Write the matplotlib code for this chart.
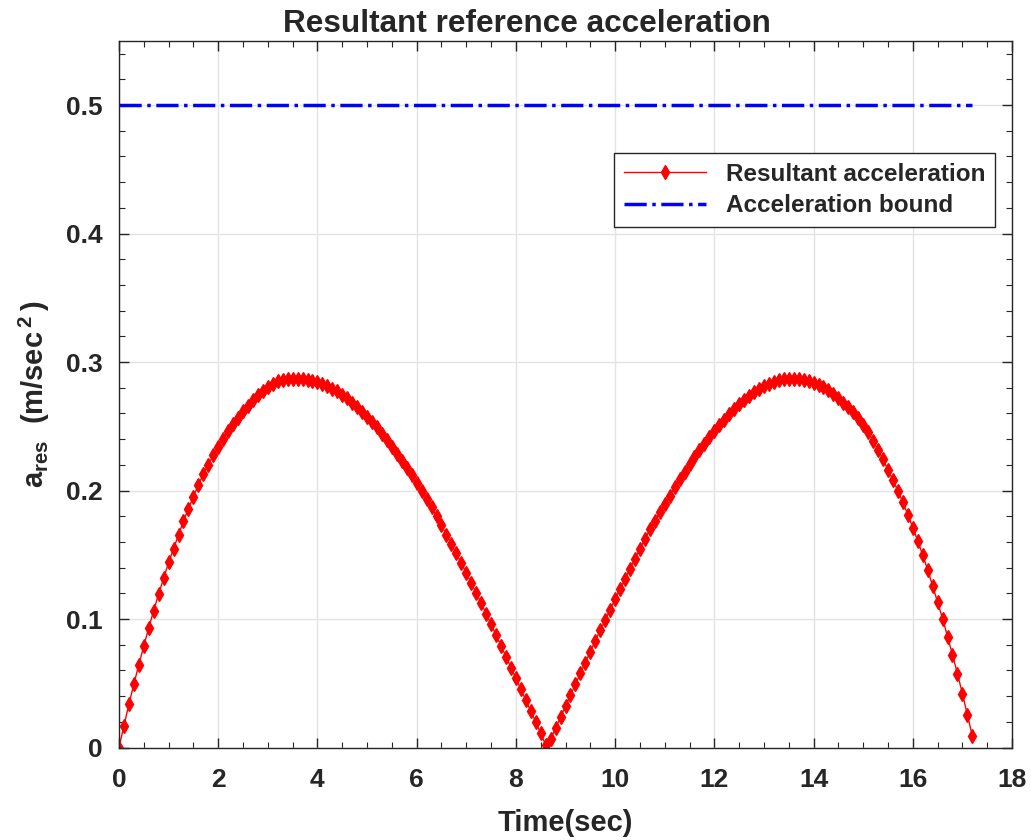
import numpy as np
import matplotlib
matplotlib.use("Agg")
import matplotlib.pyplot as plt
from matplotlib.ticker import MultipleLocator

plt.rcParams['font.family'] = ['Liberation Sans', 'DejaVu Sans']
plt.rcParams['font.weight'] = 'bold'
plt.rcParams['text.color'] = '#262626'
plt.rcParams['axes.labelcolor'] = '#262626'
plt.rcParams['xtick.color'] = '#262626'
plt.rcParams['ytick.color'] = '#262626'
plt.rcParams['mathtext.fontset'] = 'custom'
plt.rcParams['mathtext.rm'] = 'Liberation Sans:bold'
plt.rcParams['mathtext.bf'] = 'Liberation Sans:bold'
plt.rcParams['mathtext.default'] = 'bf'

# sample time step 0.1 s, 0 .. 17.2 s
dt = 0.1
a_res = [
    0.0000, 0.0170, 0.0336, 0.0494, 0.0645, 0.0790, 0.0931, 0.1066, 0.1195, 0.1318,
    0.1440, 0.1548, 0.1657, 0.1762, 0.1860, 0.1953, 0.2042, 0.2128, 0.2202, 0.2273,
    0.2338, 0.2400, 0.2463, 0.2517, 0.2566, 0.2618, 0.2660, 0.2701, 0.2740, 0.2774,
    0.2802, 0.2829, 0.2849, 0.2860, 0.2866, 0.2869, 0.2869, 0.2867, 0.2862, 0.2854,
    0.2844, 0.2831, 0.2813, 0.2792, 0.2771, 0.2745, 0.2717, 0.2685, 0.2652, 0.2615,
    0.2576, 0.2535, 0.2491, 0.2442, 0.2393, 0.2340, 0.2287, 0.2233, 0.2177, 0.2118,
    0.2058, 0.1997, 0.1934, 0.1869, 0.1800, 0.1729, 0.1657, 0.1584, 0.1510, 0.1435,
    0.1359, 0.1281, 0.1203, 0.1123, 0.1043, 0.0960, 0.0876, 0.0791, 0.0706, 0.0622,
    0.0538, 0.0455, 0.0369, 0.0284, 0.0199, 0.0112, 0.0020,
    0.0064, 0.0148, 0.0238, 0.0323, 0.0409, 0.0493, 0.0578, 0.0661, 0.0746, 0.0831,
    0.0912, 0.0994, 0.1074, 0.1154, 0.1234, 0.1313, 0.1391, 0.1469, 0.1546, 0.1622,
    0.1697, 0.1765, 0.1831, 0.1896, 0.1961, 0.2026, 0.2089, 0.2148, 0.2205, 0.2260,
    0.2317, 0.2366, 0.2416, 0.2463, 0.2509, 0.2551, 0.2595, 0.2634, 0.2670, 0.2704,
    0.2735, 0.2763, 0.2790, 0.2813, 0.2831, 0.2847, 0.2857, 0.2865, 0.2870, 0.2870,
    0.2867, 0.2862, 0.2852, 0.2839, 0.2823, 0.2802, 0.2779, 0.2753, 0.2720, 0.2685,
    0.2650, 0.2608, 0.2564, 0.2512, 0.2452, 0.2387, 0.2317, 0.2242, 0.2160, 0.2082,
    0.1998, 0.1907, 0.1813, 0.1712, 0.1608, 0.1497, 0.1382, 0.1258, 0.1131, 0.1003,
    0.0863, 0.0723, 0.0575, 0.0419, 0.0256, 0.0090,
]
a_bound = 0.5

t = np.arange(len(a_res)) * dt

fig = plt.figure(figsize=(10.31, 8.4), dpi=100)
ax = fig.add_axes([0.1154, 0.1101, 0.8662, 0.8413])

ax.plot(t, a_res, color='red', lw=1, marker='d', markersize=7,
        label='Resultant acceleration')
ax.plot(t, np.full_like(t, a_bound), color='blue', lw=2.5, ls='-.',
        label='Acceleration bound')

ax.set_xlim(0, 18)
ax.set_ylim(0, 0.55)
ax.xaxis.set_major_locator(MultipleLocator(2))
ax.xaxis.set_minor_locator(MultipleLocator(0.5))
ax.yaxis.set_minor_locator(MultipleLocator(0.02))
ax.set_yticks([0, 0.1, 0.2, 0.3, 0.4, 0.5])
ax.set_yticklabels(['0', '0.1', '0.2', '0.3', '0.4', '0.5'])
ax.tick_params(which='both', direction='in', top=True, right=True,
               labelsize=19, color='#262626')
ax.tick_params(axis='x', pad=15)
ax.tick_params(axis='y', pad=12)
ax.tick_params(which='major', length=7, width=1)
ax.tick_params(which='minor', length=4, width=0.8)
ax.grid(True, which='major', color='#e3e3e3', lw=1)
ax.set_axisbelow(True)
for s in ax.spines.values():
    s.set_color('#262626')
    s.set_linewidth(1)

ax.set_title('Resultant reference acceleration', fontsize=22.7, fontweight='bold',
             x=0.457, pad=6)
ax.set_xlabel('Time(sec)', fontsize=21, fontweight='bold', labelpad=12)
ax.set_ylabel(r'a$_{res}$  (m/sec$^{\,2}\,$)', fontsize=21, fontweight='bold', labelpad=10)

leg = ax.legend(loc='upper right', bbox_to_anchor=(0.981, 0.841), fontsize=17.5,
                handlelength=3.4, numpoints=1, fancybox=False, framealpha=1,
                edgecolor='#262626', borderpad=0.4, labelspacing=0.35,
                borderaxespad=0)
leg.get_frame().set_linewidth(1)

fig.savefig('out.png', dpi=100)
